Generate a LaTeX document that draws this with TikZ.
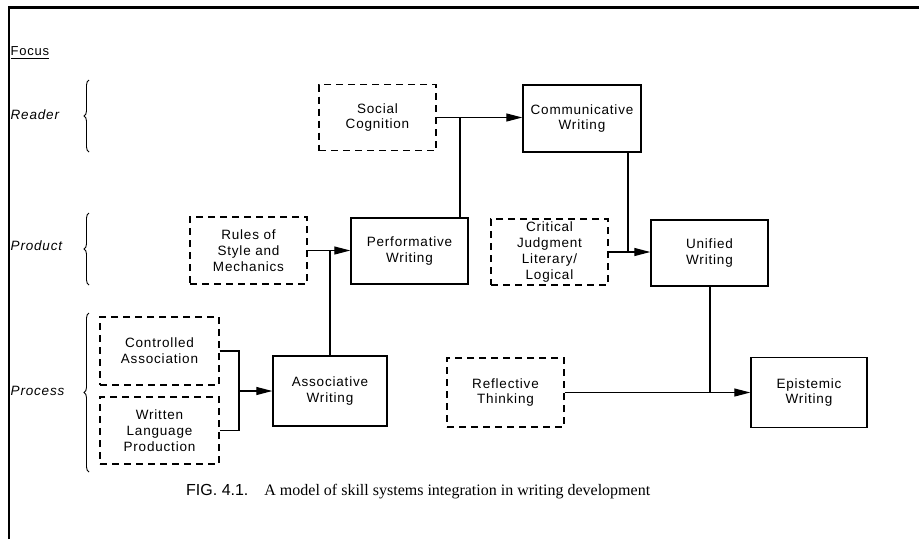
\documentclass[tikz,border=0pt]{standalone}
\usepackage{fontspec}
\setmainfont{Liberation Sans}
\newfontfamily\letterfont{Liberation Sans}[LetterSpace=6]
\newfontfamily\capserif{Liberation Serif}
\newfontfamily\capsans{Liberation Sans}
\usetikzlibrary{arrows.meta,decorations.pathreplacing}

\begin{document}
\begin{tikzpicture}[x=1pt,y=-1pt,
  box/.style={rectangle, draw, line width=1.4pt, align=center, inner sep=0pt,
    font=\letterfont\fontsize{13.5}{15.7}\selectfont},
  skillbox/.style={box},
  sourcebox/.style={box, dash pattern=on 7pt off 5pt},
  link/.style={line width=1.1pt},
  arr/.style={link, -{Triangle[length=16pt,width=8pt]}},
  focusbrace/.style={decorate, decoration={brace, amplitude=5pt}, line width=0.9pt},
  rowlabel/.style={anchor=base west, inner sep=0pt,
    font=\letterfont\itshape\fontsize{13.5}{15}\selectfont}
]
\useasboundingbox (0,0) rectangle (919,539);

% frame
\draw[line width=2.5pt] (9,539) -- (9,7.5) -- (919,7.5);

% focus column
\node[anchor=base west, inner sep=0pt, font=\letterfont\fontsize{13}{15}\selectfont] (focus) at (10.5,55) {Focus};
\draw[line width=1pt] (focus.base west) ++(0,3) coordinate (ul) -- (ul -| focus.east);
\node[rowlabel] (reader) at (10.5,119) {Reader};
\node[rowlabel] (product) at (10.5,250) {Product};
\node[rowlabel] (process) at (10.5,395) {Process};
\draw[focusbrace] (89,152) -- (89,80);
\draw[focusbrace] (89,285) -- (89,213);
\draw[focusbrace] (89,472) -- (89,313);

% reader row
\node[sourcebox, minimum width=117pt, minimum height=66pt] (soc) at (377.5,117.5) {Social\\Cognition};
\node[skillbox, minimum width=118pt, minimum height=67pt] (comm) at (582,118.5) {Communicative\\Writing};

% product row
\node[sourcebox, minimum width=117pt, minimum height=67pt] (rules) at (248.5,250.5) {Rules of\\Style and\\Mechanics};
\node[skillbox, minimum width=117pt, minimum height=66pt] (perf) at (409.5,251) {Performative\\Writing};
\node[sourcebox, minimum width=117pt, minimum height=66pt] (crit) at (549.5,252) {Critical\\Judgment\\Literary/\\Logical};
\node[skillbox, minimum width=117pt, minimum height=66pt] (unif) at (709.5,253) {Unified\\Writing};

% process row
\node[sourcebox, minimum width=119pt, minimum height=68pt] (ctrl) at (159.5,351) {Controlled\\Association};
\node[sourcebox, minimum width=119pt, minimum height=67pt] (wlp) at (159.5,430.5) {Written\\Language\\Production};
\node[skillbox, minimum width=114pt, minimum height=70pt] (assoc) at (330,391) {Associative\\Writing};
\node[sourcebox, minimum width=117pt, minimum height=69pt] (refl) at (505.5,392.5) {Reflective\\Thinking};
\node[skillbox, minimum width=116pt, minimum height=70pt] (epis) at (809,392.5) {Epistemic\\Writing};

% connectors
\draw[arr] (soc.east) -- (soc.east -| comm.west);
\coordinate (jsoc) at (460,117.5);
\draw[link] (jsoc) -- (jsoc |- perf.north);

\draw[arr] (rules.east) -- (rules.east -| perf.west);
\coordinate (jrules) at (330,250.5);
\draw[link] (jrules) -- (jrules |- assoc.north);

\draw[arr] (crit.east) -- (crit.east -| unif.west);
\coordinate (jcomm) at (628,252);
\draw[link] (jcomm |- comm.south) -- (jcomm);

\draw[arr] (refl.east) -- (refl.east -| epis.west);
\coordinate (junif) at (710,392.5);
\draw[link] (junif |- unif.south) -- (junif);

\coordinate (jproc) at (239,391);
\draw[link] (ctrl.east) -- (ctrl.east -| jproc) -- (jproc |- wlp.east) -- (wlp.east);
\draw[arr] (jproc) -- (assoc.west);

% caption
\node[anchor=base west, inner sep=0pt] (cap) at (186,495)
  {\capsans\fontsize{16}{18}\selectfont FIG. 4.1.\hspace{1em}\capserif\fontsize{16}{18}\selectfont A model of skill systems integration in writing development};
\end{tikzpicture}
\end{document}
